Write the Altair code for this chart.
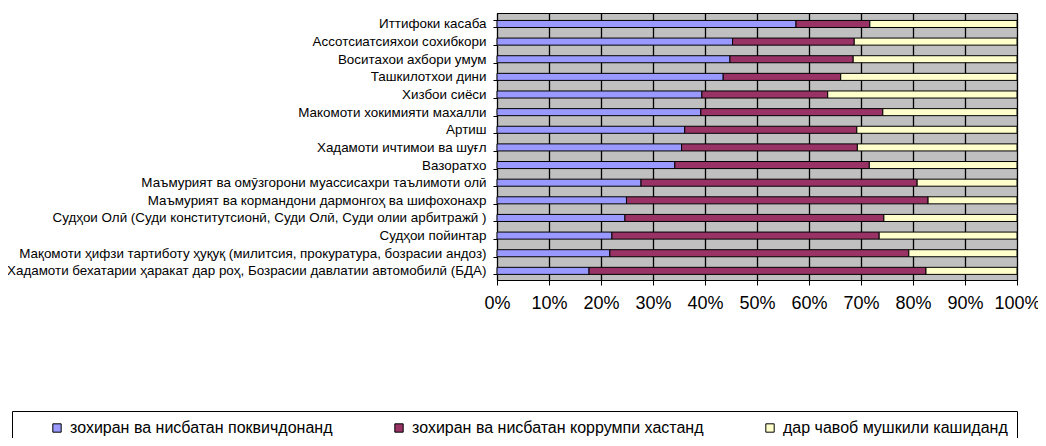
import altair as alt
import pandas as pd

categories = [
    "Иттифоки касаба",
    "Ассотсиатсияхои сохибкори",
    "Воситахои ахбори умум",
    "Ташкилотхои дини",
    "Хизбои сиёси",
    "Макомоти хокимияти махалли",
    "Артиш",
    "Хадамоти ичтимои ва шуғл",
    "Вазоратхо",
    "Маъмурият ва омӯзгорони муассисахри таълимоти олӣ",
    "Маъмурият ва кормандони дармонгоҳ ва шифохонахр",
    "Судҳои Олӣ (Суди конститутсионӣ, Суди Олӣ, Суди олии арбитражӣ )",
    "Судҳои пойинтар",
    "Мақомоти ҳифзи тартиботу ҳуқуқ (милитсия, прокуратура, бозрасии андоз)",
    "Хадамоти бехатарии ҳаракат дар роҳ, Бозрасии давлатии автомобилӣ (БДА)",
]

series_names = [
    "зохиран ва нисбатан поквичдонанд",
    "зохиран ва нисбатан коррумпи хастанд",
    "дар чавоб мушкили кашиданд",
]
series_colors = ["#9999FF", "#993366", "#FFFFCC"]

honest = [57.5, 45.3, 44.8, 43.5, 39.4, 39.2, 36.1, 35.5, 34.2, 27.7, 24.9, 24.6, 22.1, 21.7, 17.7]
corrupt = [14.2, 23.4, 23.7, 22.6, 24.2, 35.0, 33.1, 33.8, 37.4, 53.1, 58.0, 49.8, 51.4, 57.5, 64.8]
hard = [28.3, 31.3, 31.5, 33.9, 36.4, 25.8, 30.8, 30.7, 28.4, 19.2, 17.1, 25.6, 26.5, 20.8, 17.5]

x_ticks = [0, 0.1, 0.2, 0.3, 0.4, 0.5, 0.6, 0.7, 0.8, 0.9, 1.0]

rows = []
for i, cat in enumerate(categories):
    for k, vals in enumerate([honest, corrupt, hard]):
        rows.append({"cat": cat, "series": series_names[k], "value": vals[i], "ord": k})
df = pd.DataFrame(rows)

FONT = "Liberation Sans"

chart = (
    alt.Chart(df)
    .mark_bar(stroke="black", strokeWidth=1)
    .encode(
        y=alt.Y(
            "cat:N",
            sort=categories,
            title=None,
            scale=alt.Scale(paddingInner=0.6, paddingOuter=0.37, align=0.57),
            axis=alt.Axis(
                tickBand="extent",
                labelFont=FONT,
                labelFontSize=13.4,
                labelColor="black",
                tickColor="black",
                domainColor="black",
                tickSize=4,
                labelPadding=7,
                labelLimit=700,
            ),
        ),
        x=alt.X(
            "value:Q",
            stack="normalize",
            title=None,
            scale=alt.Scale(domain=[0, 1], nice=False),
            axis=alt.Axis(
                format="%",
                values=x_ticks,
                grid=True,
                gridColor="black",
                gridWidth=1.3,
                labelFont=FONT,
                labelFontSize=18,
                labelColor="black",
                tickColor="black",
                domainColor="black",
                tickSize=5,
                labelPadding=9,
                labelFlush=False,
                labelOverlap=False,
            ),
        ),
        color=alt.Color(
            "series:N",
            sort=series_names,
            scale=alt.Scale(domain=series_names, range=series_colors),
            legend=alt.Legend(
                title="\u00a0",
                titleOrient="left",
                titlePadding=28,
                titleFontSize=14,
                orient="none",
                legendX=-485,
                legendY=398,
                direction="horizontal",
                symbolType="square",
                symbolSize=70,
                symbolStrokeColor="black",
                symbolStrokeWidth=1,
                symbolOpacity=1,
                labelFont=FONT,
                labelFontSize=16,
                labelColor="black",
                labelOffset=5,
                labelLimit=400,
                columnPadding=58,
                strokeColor="black",
                padding=9,
                fillColor="white",
            ),
        ),
        order=alt.Order("ord:Q"),
    )
    .properties(
        width=520,
        height=267,
        background="white",
        autosize=alt.AutoSizeParams(type="none"),
        padding={"left": 489, "top": 5, "right": 21, "bottom": 158},
    )
    .configure_view(fill="#C0C0C0", stroke="black", strokeWidth=1)
)

chart.save("out.html", embed_options={"renderer": "svg", "actions": False})
